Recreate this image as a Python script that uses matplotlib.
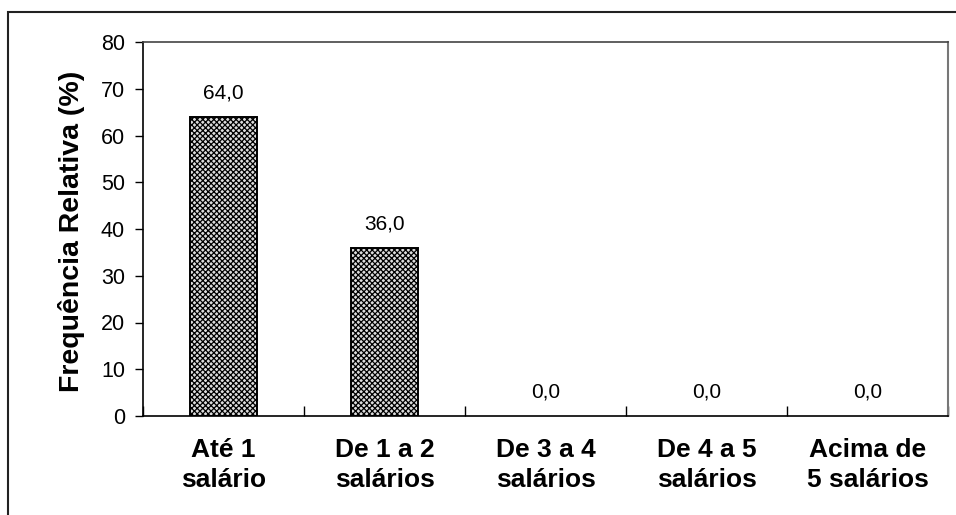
import matplotlib
matplotlib.use("Agg")
import matplotlib.pyplot as plt
from matplotlib.patches import Rectangle

categories = ["Até 1\nsalário", "De 1 a 2\nsalários", "De 3 a 4\nsalários",
              "De 4 a 5\nsalários", "Acima de\n5 salários"]
values = [64.0, 36.0, 0.0, 0.0, 0.0]
yticks = [0, 10, 20, 30, 40, 50, 60, 70, 80]

plt.rcParams['font.family'] = ['Liberation Sans', 'DejaVu Sans']
plt.rcParams['hatch.linewidth'] = 0.9
plt.rcParams['hatch.color'] = '#5a5a5a'

fig = plt.figure(figsize=(9.56, 5.15), dpi=100)
W, H = 956, 515
ax = fig.add_axes([143 / W, 1 - 416 / H, (948 - 143) / W, (416 - 42) / H])

# outer chart frame
fig.patches.append(Rectangle((8 / W, -0.05), 1.2, 1 - 12 / H + 0.05,
                             transform=fig.transFigure, fill=False,
                             edgecolor='#222222', linewidth=1.5))

x = list(range(len(categories)))
bars = ax.bar(x, values, width=0.41, facecolor='#dcdcdc', edgecolor='black',
              linewidth=1.4, hatch='xxxxxx')
for b, v in zip(bars, values):
    if v == 0:
        b.set_linewidth(0)
        b.set_hatch(None)

for xi, v in zip(x, values):
    ax.text(xi, v + 3.0, f"{v:.1f}".replace('.', ','), ha='center', va='bottom',
            fontsize=15)

ax.set_xlim(-0.5, len(categories) - 0.5)
ax.set_ylim(0, 80)
ax.set_yticks(yticks)
ax.set_yticklabels([str(t) for t in yticks], fontsize=15.5)
ax.set_xticks([i - 0.5 for i in range(len(categories) + 1)], minor=False)
ax.set_xticklabels([])
ax.set_xticks(x, minor=True)
ax.set_xticklabels(categories, minor=True, fontsize=19, fontweight='bold',
                   linespacing=1.3)
ax.tick_params(axis='x', which='minor', length=0, pad=16)
ax.tick_params(axis='x', which='major', direction='in', length=7, width=1)
ax.tick_params(axis='y', direction='out', length=6, width=1, pad=7)

for side in ['left', 'bottom']:
    ax.spines[side].set_linewidth(1.2)
    ax.spines[side].set_color('black')
ax.spines['top'].set_color('#444444')
ax.spines['right'].set_color('#777777')
ax.spines['top'].set_linewidth(1.2)
ax.spines['right'].set_linewidth(1.5)

fig.text(72 / W, 1 - 231 / H, "Frequência Relativa (%)", rotation=90,
         ha='center', va='center', fontsize=20.5, fontweight='bold')

fig.savefig("out.png", dpi=100)
